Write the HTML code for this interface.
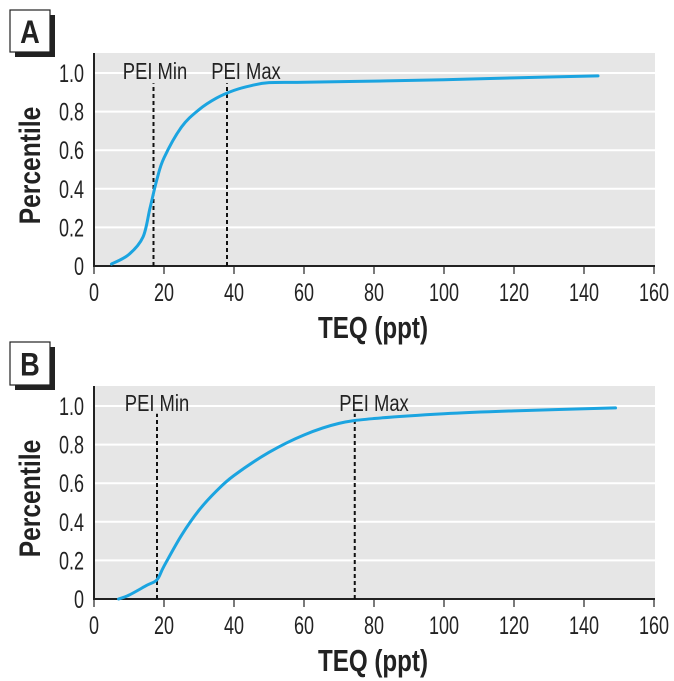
<!DOCTYPE html>
<html><head><meta charset="utf-8"><style>
html,body{margin:0;padding:0;background:#fff;}
svg{display:block;font-family:"Liberation Sans",sans-serif;}
</style></head><body>
<svg id="svg" width="674" height="681" viewBox="0 0 674 681"></svg>
<script>
const xTicks=[0,20,40,60,80,100,120,140,160];
const yTicks=[0,0.2,0.4,0.6,0.8,1.0];
const yTickLabels=["0","0.2","0.4","0.6","0.8","1.0"];
const aTEQ=[5,10,14,16,18,20,25,30,35,40,45,50,60,80,100,120,144];
const aPct=[0.01,0.06,0.15,0.3,0.45,0.56,0.72,0.81,0.87,0.91,0.935,0.95,0.952,0.958,0.965,0.975,0.985];
const bTEQ=[7,10,15,18,20,25,30,35,40,50,60,70,80,100,120,149];
const bPct=[0,0.02,0.07,0.1,0.17,0.33,0.46,0.56,0.64,0.76,0.85,0.91,0.935,0.96,0.975,0.99];
const aPEI=[17,38];
const bPEI=[18,74.5];
const peiNames=["PEI Min","PEI Max"];
const NS="http://www.w3.org/2000/svg";
const svg=document.getElementById('svg');
function mk(tag,attrs,parent,text){const e=document.createElementNS(NS,tag);for(const k in attrs)e.setAttribute(k,attrs[k]);if(text!==undefined)e.textContent=text;(parent||svg).appendChild(e);return e;}
function ntext(x,y,anchor,size,weight,parent,str,sx){
  return mk('text',{x:0,y:0,transform:'translate('+x+','+y+') scale('+(sx||0.72)+',1)','text-anchor':anchor,'font-size':size,'font-weight':weight,fill:'#222'},parent,str);
}
function panel(id,letter,box,top,y0,y1,teq,pct,pei,peiTop,peiLabelY,peiLabelX){
  const g=mk('g',{});
  
  
  const X=v=>94+v*(654-94)/160;
  const Y=v=>y0-v*(y0-y1);
  const bg=mk('rect',{x:94,y:top,width:561,height:y0-top,fill:'#e6e6e6'},g);
  
  
  yTicks.forEach((t,i)=>{
    if(t>0){const gl=mk('line',{x1:94,x2:655,y1:Y(t),y2:Y(t),stroke:'#fff','stroke-width':2},g);
      
      }
    const tl=ntext(84,Y(t)+9,'end',25,'normal',g,yTickLabels[i]);
    
    
  });
  xTicks.forEach(t=>{
    const tk=mk('line',{x1:X(t),x2:X(t),y1:y0,y2:y0+8,stroke:'#222','stroke-width':1.2},g);
    
    
    const tl=ntext(X(t),y0+35,'middle',25,'normal',g,String(t));
    
    
  });
  const ax=mk('line',{x1:93,x2:655,y1:y0,y2:y0,stroke:'#222','stroke-width':2},g);
  
  
  const ay=mk('line',{x1:94,x2:94,y1:top,y2:y0,stroke:'#222','stroke-width':2},g);
  
  
  pei.forEach((v,i)=>{
    const l=mk('line',{x1:X(v),x2:X(v),y1:y0,y2:Y(peiTop),stroke:'#111','stroke-width':2,'stroke-dasharray':'4,3'},g);
    
    
    const t=ntext(peiLabelX[i],peiLabelY,'middle',23,'normal',g,peiNames[i],0.8);
    
    
  });
  const P=teq.map((v,i)=>[X(v),Y(pct[i])]);
  let d='M'+P[0][0]+','+P[0][1];
  for(let i=0;i<P.length-1;i++){
    const p0=P[Math.max(0,i-1)],p1=P[i],p2=P[i+1],p3=P[Math.min(P.length-1,i+2)];
    const c1=[p1[0]+(p2[0]-p0[0])/6,p1[1]+(p2[1]-p0[1])/6];
    const c2=[p2[0]-(p3[0]-p1[0])/6,p2[1]-(p3[1]-p1[1])/6];
    d+=' C'+c1+' '+c2+' '+p2;
  }
  const c=mk('path',{d:d,fill:'none',stroke:'#1ba4e0','stroke-width':3,'stroke-linecap':'round'},g);
  
  
  const yt=mk('text',{x:0,y:0,transform:'translate(40,'+((top+y0)/2+6)+') rotate(-90) scale(0.82,1)','text-anchor':'middle','font-size':30,'font-weight':'bold',fill:'#222'},g,'Percentile');
  
  
  const xt=ntext(373,y0+72,'middle',31,'bold',g,'TEQ (ppt)',0.78);
  
  
  const sh=mk('rect',{x:box[0]+5,y:box[1]+5,width:box[2],height:box[3],fill:'#222'},g);
  
  
  const bx=mk('rect',{x:box[0],y:box[1],width:box[2],height:box[3],fill:'#fff',stroke:'#222','stroke-width':1.2},g);
  
  
  const lt=ntext(box[0]+box[2]/2,box[1]+box[3]/2+12,'middle',32,'bold',g,letter,0.85);
  
  
}
panel('a','A',[10,10,40,42],53,266,73,aTEQ,aPct,aPEI,0.947,79,[155,246]);
panel('b','B',[10,342,40,43],386,599,406,bTEQ,bPct,bPEI,0.96,411,[157,374]);
</script>
</body></html>
